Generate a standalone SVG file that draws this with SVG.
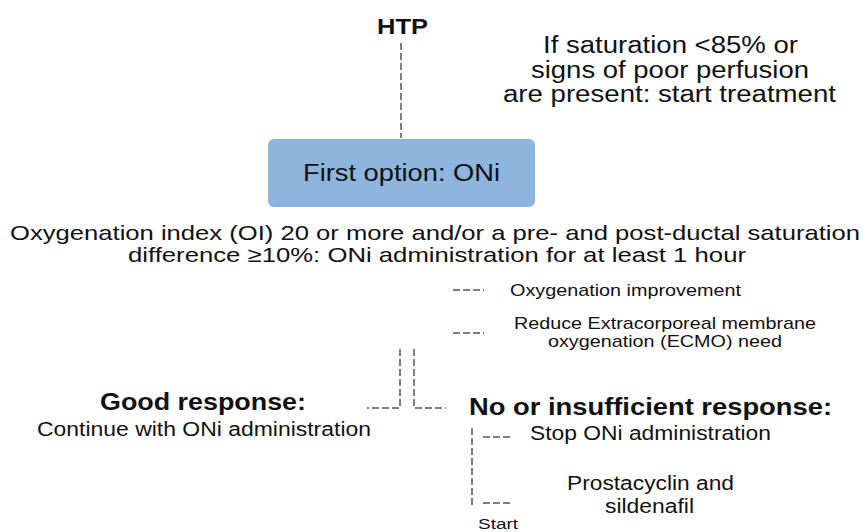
<svg xmlns="http://www.w3.org/2000/svg" width="863" height="532" viewBox="0 0 863 532">
<style>
text{font-family:"Liberation Sans",Arial,sans-serif;fill:#111}
.b{font-weight:bold}
.m{text-anchor:middle}
.d{stroke:#555;stroke-width:1.5;stroke-dasharray:7,3;fill:none}
</style>
<rect width="863" height="532" fill="#fff"/>
<g id="connectors">
<line class="d" x1="401" y1="43" x2="401" y2="138"/>
<line class="d" x1="453" y1="290" x2="484" y2="290"/>
<line class="d" x1="453" y1="333" x2="484" y2="333"/>
<polyline class="d" points="400,349 400,408 367,408"/>
<polyline class="d" points="414,349 414,408 446,408"/>
<line class="d" x1="472" y1="428" x2="472" y2="505"/>
<line class="d" x1="483" y1="437" x2="513" y2="437"/>
<line class="d" x1="483" y1="503" x2="513" y2="503"/>
</g>
<g id="htp"><text class="b m" x="402.5" y="34" font-size="22" textLength="51" lengthAdjust="spacingAndGlyphs">HTP</text></g>
<g id="criteria"><text class="m" x="670.5" y="53" font-size="23" textLength="255" lengthAdjust="spacingAndGlyphs">If saturation &lt;85% or</text><text class="m" x="670" y="78" font-size="23" textLength="278" lengthAdjust="spacingAndGlyphs">signs of poor perfusion</text><text class="m" x="669.5" y="102" font-size="23" textLength="333" lengthAdjust="spacingAndGlyphs">are present: start treatment</text></g>
<g id="first-option"><rect x="268" y="139" width="267" height="68" rx="6" fill="#8db5de"/><text class="m" x="401.5" y="181" font-size="23" textLength="197" lengthAdjust="spacingAndGlyphs">First option: ONi</text></g>
<g id="oi"><text class="m" x="435" y="240" font-size="21" textLength="850" lengthAdjust="spacingAndGlyphs">Oxygenation index (OI) 20 or more and/or a pre- and post-ductal saturation</text><text class="m" x="437" y="262" font-size="21" textLength="618" lengthAdjust="spacingAndGlyphs">difference ≥10%: ONi administration for at least 1 hour</text></g>
<g id="oxy-improve"><text x="510" y="296" font-size="17" textLength="231" lengthAdjust="spacingAndGlyphs">Oxygenation improvement</text></g>
<g id="ecmo"><text class="m" x="665" y="329" font-size="17" textLength="302" lengthAdjust="spacingAndGlyphs">Reduce Extracorporeal membrane</text><text class="m" x="665" y="347" font-size="17" textLength="234" lengthAdjust="spacingAndGlyphs">oxygenation (ECMO) need</text></g>
<g id="good"><text class="b m" x="203" y="410" font-size="23" textLength="206" lengthAdjust="spacingAndGlyphs">Good response:</text><text class="m" x="204" y="436" font-size="20" textLength="334" lengthAdjust="spacingAndGlyphs">Continue with ONi administration</text></g>
<g id="bad"><text class="b" x="469" y="415" font-size="23" textLength="363" lengthAdjust="spacingAndGlyphs">No or insufficient response:</text></g>
<g id="stop"><text x="530" y="440" font-size="20" textLength="241" lengthAdjust="spacingAndGlyphs">Stop ONi administration</text></g>
<g id="prosta"><text class="m" x="650.5" y="490" font-size="20" textLength="167" lengthAdjust="spacingAndGlyphs">Prostacyclin and</text><text class="m" x="649.5" y="513" font-size="20" textLength="89" lengthAdjust="spacingAndGlyphs">sildenafil</text></g>
<g id="start"><text x="478" y="529" font-size="15" textLength="40" lengthAdjust="spacingAndGlyphs">Start</text></g>
</svg>
